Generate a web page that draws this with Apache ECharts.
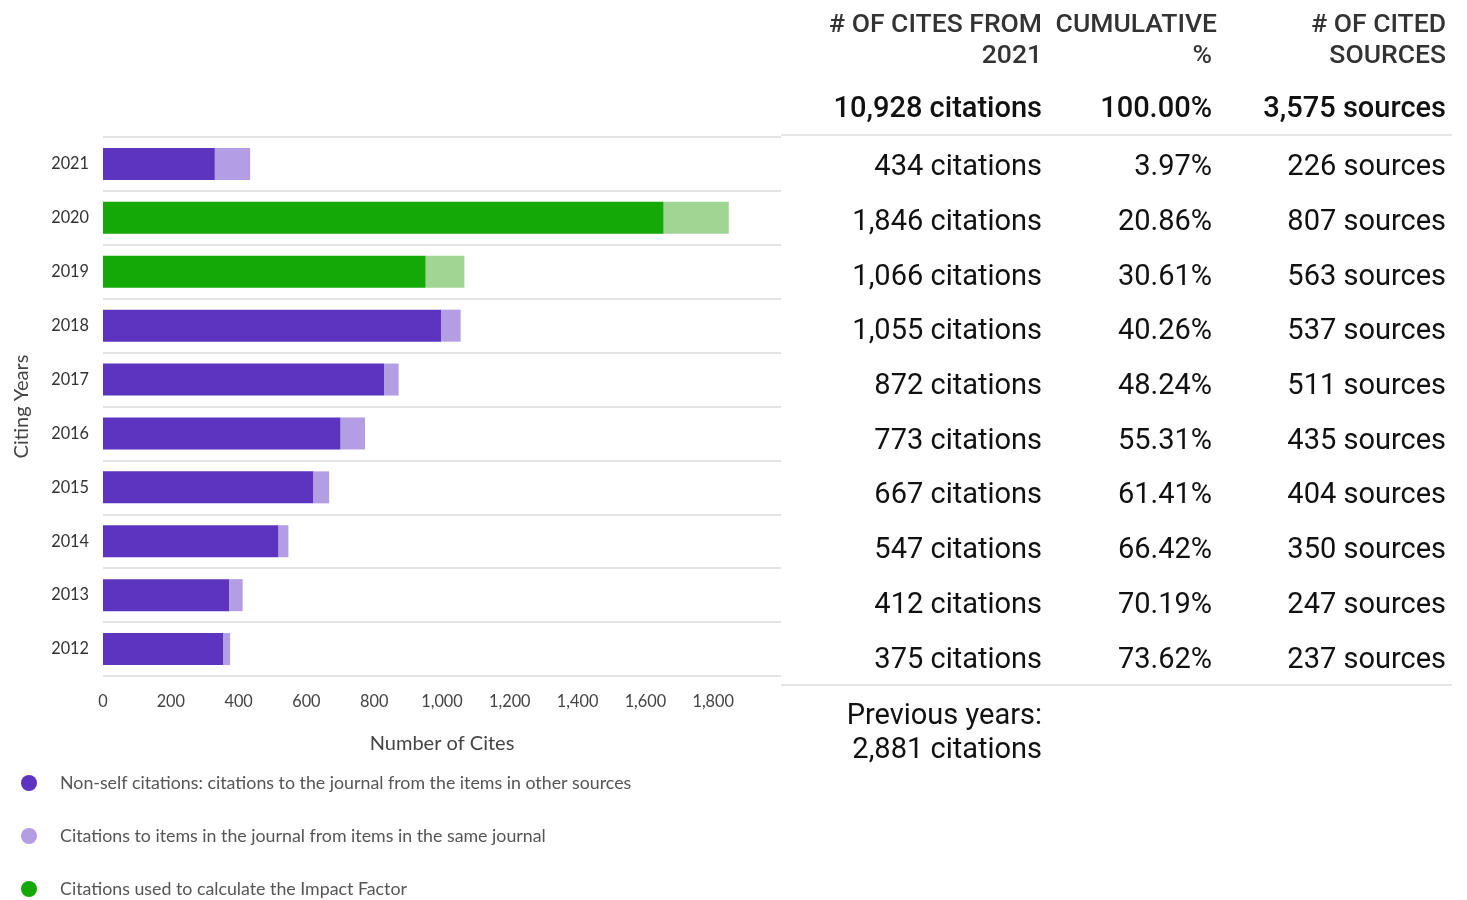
<!DOCTYPE html>
<html>
<head>
<meta charset="utf-8">
<script src="https://cdn.jsdelivr.net/npm/echarts@6/dist/echarts.min.js"></script>
<style>
html,body{margin:0;padding:0;background:#fff;}
#chart{width:1467px;height:900px;}
</style>
</head>
<body>
<div id="chart"></div>
<script>
// ---- data ----
const years = ['2021','2020','2019','2018','2017','2016','2015','2014','2013','2012'];
const nonSelfCites = [330, 1654, 952, 997, 829, 701, 621, 518, 373, 354];
const selfCites    = [104, 192, 114, 58, 43, 72, 46, 29, 39, 21];
const impactFactorYears = ['2020','2019'];
const xTicks = [0, 200, 400, 600, 800, 1000, 1200, 1400, 1600, 1800];

const headerCites = ['# OF CITES FROM', '2021'];
const headerCum = ['CUMULATIVE', '%'];
const headerSources = ['# OF CITED', 'SOURCES'];
const totalCites = '10,928 citations';
const totalCum = '100.00%';
const totalSources = '3,575 sources';
const rowCites = ['434 citations','1,846 citations','1,066 citations','1,055 citations','872 citations','773 citations','667 citations','547 citations','412 citations','375 citations'];
const rowCum = ['3.97%','20.86%','30.61%','40.26%','48.24%','55.31%','61.41%','66.42%','70.19%','73.62%'];
const rowSources = ['226 sources','807 sources','563 sources','537 sources','511 sources','435 sources','404 sources','350 sources','247 sources','237 sources'];
const previousYears = ['Previous years:', '2,881 citations'];

const legendNames = [
  'Non-self citations: citations to the journal from the items in other sources',
  'Citations to items in the journal from items in the same journal',
  'Citations used to calculate the Impact Factor'
];

const C_DARK = '#5c34bf', C_LIGHT = '#b39de3', C_GREEN = '#14a906', C_LGREEN = '#a0d594';

const chart = echarts.init(document.getElementById('chart'), null, {renderer: 'canvas'});

const darkData = years.map((y, i) => ({
  value: nonSelfCites[i],
  itemStyle: impactFactorYears.includes(y) ? {color: C_GREEN} : {}
}));
const lightData = years.map((y, i) => ({
  value: selfCites[i],
  itemStyle: impactFactorYears.includes(y) ? {color: C_LGREEN} : {}
}));

const TF = 'Roboto';
const graphics = [];
const colX = [1042, 1212, 1446];
const headX = [1042, 1217, 1446];
function txt(x, y, s, size, weight, color) {
  graphics.push({type: 'text', x: x, y: y, silent: true,
    style: {text: s, font: (weight||'normal') + ' ' + size + 'px ' + TF, fill: color || '#212121',
      align: 'right', verticalAlign: 'middle'}});
}
[headerCites, headerCum, headerSources].forEach((h, c) => {
  txt(headX[c], 25, h[0], 26.5, '500', '#333');
  txt(c === 1 ? colX[c] : headX[c], 56, h[1], 26.5, '500', '#333');
});
txt(colX[0], 110, totalCites, 29, '500', '#111');
txt(colX[1], 110, totalCum, 29, '500', '#111');
txt(colX[2], 110, totalSources, 29, '500', '#111');
graphics.push({type: 'line', silent: true, shape: {x1: 781, y1: 135, x2: 1452, y2: 135}, style: {stroke: '#e6e6e6', lineWidth: 2}});
rowCites.forEach((s, i) => {
  const y = 168 + i * 54.7;
  txt(colX[0], y, s, 29, 'normal', '#111');
  txt(colX[1], y, rowCum[i], 29, 'normal', '#111');
  txt(colX[2], y, rowSources[i], 29, 'normal', '#111');
});
graphics.push({type: 'line', silent: true, shape: {x1: 781, y1: 685, x2: 1452, y2: 685}, style: {stroke: '#e6e6e6', lineWidth: 2}});
txt(colX[0], 717, previousYears[0], 29, 'normal', '#111');
txt(colX[0], 751, previousYears[1], 29, 'normal', '#111');

const LF = 'Lato';
const legendTops = [774, 827, 880];
const legends = legendNames.map((n, i) => ({
  orient: 'vertical', left: 21, top: legendTops[i], padding: 0, itemWidth: 16, itemHeight: 16,
  icon: 'circle', selectedMode: false, data: [n],
  textStyle: {fontFamily: LF, fontSize: 17.8, lineHeight: 18, color: '#555', padding: [0, 0, 0, 18]}
}));

chart.setOption({
  animation: false,
  backgroundColor: '#fff',
  grid: {left: 103, right: 686, top: 137, bottom: 224, containLabel: false},
  legend: legends,
  xAxis: {
    type: 'value', min: 0, max: 2000, interval: 200,
    axisLine: {show: false}, axisTick: {show: false}, splitLine: {show: false},
    axisLabel: {showMaxLabel: false, fontFamily: LF, fontSize: 16.3, color: '#444', margin: 18,
      formatter: v => xTicks.includes(v) ? v.toLocaleString('en-US') : ''},
    name: 'Number of Cites', nameLocation: 'middle', nameGap: 58,
    nameTextStyle: {fontFamily: LF, fontSize: 20, color: '#444'}
  },
  yAxis: {
    type: 'category', data: years, inverse: true,
    axisLine: {show: false}, axisTick: {show: false},
    splitLine: {show: true, lineStyle: {color: '#e3e3e3', width: 2}},
    axisLabel: {fontFamily: LF, fontSize: 16.3, color: '#333', margin: 14},
    name: 'Citing Years', nameLocation: 'middle', nameGap: 71, nameRotate: 90,
    nameTextStyle: {fontFamily: LF, fontSize: 20, color: '#444'}
  },
  series: [
    {name: legendNames[0], type: 'bar', stack: 'c', data: darkData, barWidth: 32,
      itemStyle: {color: C_DARK}},
    {name: legendNames[1], type: 'bar', stack: 'c', data: lightData, barWidth: 32,
      itemStyle: {color: C_LIGHT}},
    {name: legendNames[2], type: 'bar', stack: 'c', data: [], barWidth: 32,
      itemStyle: {color: C_GREEN}}
  ],
  graphic: graphics
});
</script>
</body>
</html>
